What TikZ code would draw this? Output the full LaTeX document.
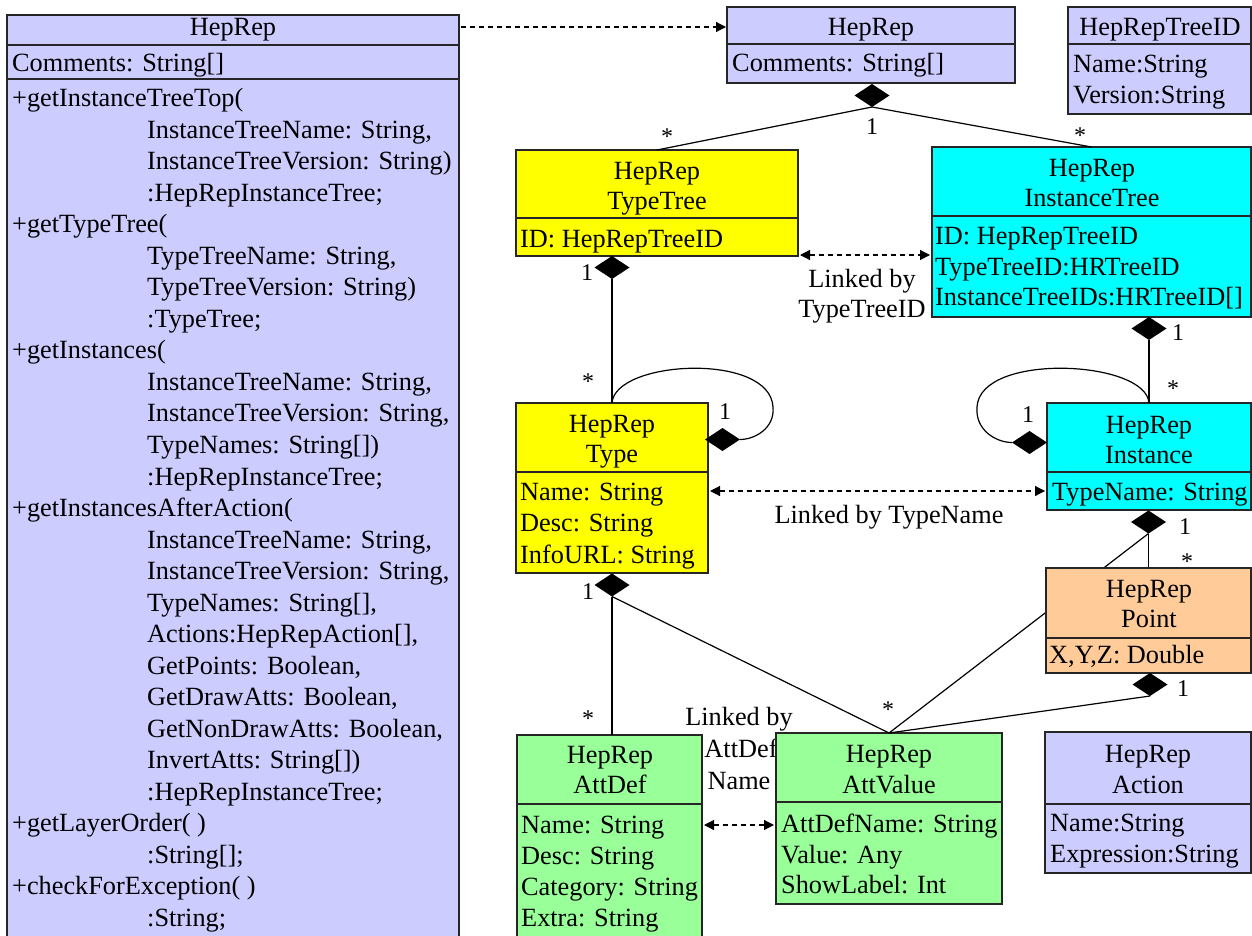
\documentclass[tikz,border=0pt]{standalone}
\usepackage{fontspec}
\setmainfont{Liberation Serif}
\usetikzlibrary{arrows.meta,shapes.geometric}
\definecolor{lav}{HTML}{CCCCFF}
\definecolor{yel}{HTML}{FFFF00}
\definecolor{cya}{HTML}{00FFFF}
\definecolor{ora}{HTML}{FFCC99}
\definecolor{grn}{HTML}{99FF99}
\tikzset{
  umlbox/.style={draw=black!85, line width=1.3pt, inner sep=0pt, outer sep=0pt, anchor=north west},
  sepline/.style={draw=black!85, line width=1.3pt},
  txt/.style={inner sep=0pt, font=\fontsize{26.3}{30}\selectfont},
  mult/.style={inner sep=0pt, font=\fontsize{24}{28}\selectfont},
  conn/.style={line width=1.2pt},
  dia/.style={diamond, fill=black, inner sep=0pt, outer sep=0pt, minimum width=35pt, minimum height=23pt},
  linkboth/.style={line width=1.2pt, dash pattern=on 5pt off 4pt, shorten <=2pt, shorten >=2pt,
     {Triangle[length=10pt,width=10pt]}-{Triangle[length=10pt,width=10pt]}},
  linkto/.style={line width=1.2pt, dash pattern=on 5pt off 4pt, shorten <=2pt, shorten >=1pt,
     -{Triangle[length=10pt,width=10pt]}},
}
\newcommand\ctx[4]{\node[txt, anchor=base] (#1) at (#2,#3) {#4};}
\newcommand\ltx[4]{\node[txt, anchor=base west] (#1) at (#2,#3) {#4};}
\begin{document}
\begin{tikzpicture}[x=1pt,y=-1pt]
\useasboundingbox (0,0) rectangle (1252,936);
\fill[white] (0,0) rectangle (1252,936);
\clip (0,0) rectangle (1252,936);

% label partly hidden by AttValue box
\ctx{lk4a}{739}{725}{Linked by}
\ctx{lk4b}{741}{757}{AttDef}
\ctx{lk4c}{739}{789}{Name}

% ---------- boxes ----------
\node[umlbox, fill=lav, minimum width=452pt, minimum height=960pt] (hr) at (7,15) {};
\draw[sepline] (7,45) -- (459,45);
\draw[sepline] (7,79) -- (459,79);

\node[umlbox, fill=lav, minimum width=288pt, minimum height=76pt] (hrb) at (727,7) {};
\draw[sepline] (727,44) -- (1015,44);

\node[umlbox, fill=lav, minimum width=183pt, minimum height=107pt] (tid) at (1068,7) {};
\draw[sepline] (1068,44) -- (1251,44);

\node[umlbox, fill=yel, minimum width=282pt, minimum height=106pt] (tt) at (516,150) {};
\draw[sepline] (516,218) -- (798,218);

\node[umlbox, fill=cya, minimum width=319pt, minimum height=170pt] (it) at (932,147) {};
\draw[sepline] (932,216) -- (1251,216);

\node[umlbox, fill=yel, minimum width=192pt, minimum height=170pt] (ty) at (516,403) {};
\draw[sepline] (516,472) -- (708,472);

\node[umlbox, fill=cya, minimum width=204pt, minimum height=107pt] (in) at (1047,403) {};
\draw[sepline] (1047,472) -- (1251,472);

\node[umlbox, fill=grn, minimum width=185pt, minimum height=240pt] (ad) at (517,735) {};
\draw[sepline] (517,804) -- (702,804);

\node[umlbox, fill=grn, minimum width=226pt, minimum height=171pt] (av) at (776,733) {};
\draw[sepline] (776,802) -- (1002,802);

\node[umlbox, fill=lav, minimum width=206pt, minimum height=141pt] (ac) at (1045,732) {};
\draw[sepline] (1045,804) -- (1251,804);

% ---------- diamonds ----------
\node[dia] (d0) at (872,95.5) {};
\node[dia] (d1) at (612,267.5) {};
\node[dia] (d2) at (1149,328.5) {};
\node[dia] (d3) at (722.5,439.5) {};
\node[dia] (d4) at (1029.5,442.5) {};
\node[dia] (d5) at (1148.5,522) {};
\node[dia] (d6) at (612,585) {};

% ---------- connectors ----------
\draw[conn] (d0.south) -- (tt.north);
\draw[conn] (d0.south) -- (it.north);
\draw[conn] (d1.south) -- (d1.south |- ty.north);
\draw[conn] (d2.south) -- (d2.south |- in.north);
\draw[conn] (ty.north) .. controls (615,360) and (770,352) .. (773,407)
                       .. controls (775,428) and (755,439.5) .. (d3.east);
\draw[conn] (in.north) .. controls (1146,360) and (980,352) .. (977,407)
                       .. controls (975,430) and (996,442.5) .. (d4.west);
\draw[conn] (d5.south) -- (d5.south |- 0,568);
\draw[conn] (d5.south) -- (av.north);
\draw[conn] (d6.south) -- (d6.south |- ad.north);
\draw[conn] (d6.south) -- (av.north);

% Point box drawn over the crossing line
\node[umlbox, fill=ora, minimum width=205pt, minimum height=105pt] (pt) at (1046,568) {};
\draw[sepline] (1046,638) -- (1251,638);
\node[dia] (d7) at (1150,684.5) {};
\draw[conn] (d7.south) -- (av.north);

% ---------- link arrows ----------
\coordinate (lk1) at (0,27);
\coordinate (lk2) at (0,255);
\coordinate (lk3) at (0,491);
\coordinate (lk4) at (0,825);
\draw[linkto] (hr.east |- lk1) -- (hrb.west |- lk1);
\draw[linkboth] (tt.east |- lk2) -- (it.west |- lk2);
\draw[linkboth] (ty.east |- lk3) -- (in.west |- lk3);
\draw[linkboth] (ad.east |- lk4) -- (av.west |- lk4);
\ctx{lk2a}{862}{287}{Linked by}
\ctx{lk2b}{862}{317}{TypeTreeID}
\ctx{lk3a}{889}{523}{Linked by TypeName}

% ---------- multiplicities ----------
\node[mult] (n1) at (667,137) {*};
\node[mult] (n2) at (872,127) {1};
\node[mult] (n3) at (1080,136) {*};
\node[mult] (n4) at (587,273) {1};
\node[mult] (n5) at (588,382) {*};
\node[mult] (n6) at (725,412) {1};
\node[mult] (n7) at (1178,333) {1};
\node[mult] (n8) at (1173,389) {*};
\node[mult] (n9) at (1028,415) {1};
\node[mult] (n10) at (1185,527) {1};
\node[mult] (n11) at (1187,562) {*};
\node[mult] (n12) at (588,592) {1};
\node[mult] (n13) at (588,719) {*};
\node[mult] (n14) at (888,710) {*};
\node[mult] (n15) at (1183,689) {1};

% ---------- texts ----------
\ctx{hrT}{233}{36}{HepRep}
\ltx{hrC}{12}{72}{Comments: String[]}
\ltx{m1}{12}{106.6}{+getInstanceTreeTop(}
\ltx{m2}{147}{138.1}{InstanceTreeName: String,}
\ltx{m3}{147}{169.7}{InstanceTreeVersion: String)}
\ltx{m4}{147}{201.2}{:HepRepInstanceTree;}
\ltx{m5}{12}{232.7}{+getTypeTree(}
\ltx{m6}{147}{264.3}{TypeTreeName: String,}
\ltx{m7}{147}{295.8}{TypeTreeVersion: String)}
\ltx{m8}{147}{327.3}{:TypeTree;}
\ltx{m9}{12}{358.8}{+getInstances(}
\ltx{m10}{147}{390.4}{InstanceTreeName: String,}
\ltx{m11}{147}{421.9}{InstanceTreeVersion: String,}
\ltx{m12}{147}{453.4}{TypeNames: String[])}
\ltx{m13}{147}{485.0}{:HepRepInstanceTree;}
\ltx{m14}{12}{516.5}{+getInstancesAfterAction(}
\ltx{m15}{147}{548.0}{InstanceTreeName: String,}
\ltx{m16}{147}{579.6}{InstanceTreeVersion: String,}
\ltx{m17}{147}{611.1}{TypeNames: String[],}
\ltx{m18}{147}{642.6}{Actions:HepRepAction[],}
\ltx{m19}{147}{674.1}{GetPoints: Boolean,}
\ltx{m20}{147}{705.7}{GetDrawAtts: Boolean,}
\ltx{m21}{147}{737.2}{GetNonDrawAtts: Boolean,}
\ltx{m22}{147}{768.7}{InvertAtts: String[])}
\ltx{m23}{147}{800.2}{:HepRepInstanceTree;}
\ltx{m24}{12}{831.8}{+getLayerOrder( )}
\ltx{m25}{147}{863.3}{:String[];}
\ltx{m26}{12}{894.8}{+checkForException( )}
\ltx{m27}{147}{926.4}{:String;}

\ctx{hrbT}{871}{36}{HepRep}
\ltx{hrbC}{732}{72}{Comments: String[]}

\ctx{tidT}{1160}{36}{HepRepTreeID}
\ltx{tidA}{1073}{73}{Name:String}
\ltx{tidB}{1073}{104}{Version:String}

\ctx{ttT1}{657}{179}{HepRep}
\ctx{ttT2}{657}{209}{TypeTree}
\ltx{ttA}{520}{247}{ID: HepRepTreeID}

\ctx{itT1}{1092}{177}{HepRep}
\ctx{itT2}{1092}{207}{InstanceTree}
\ltx{itA}{935}{244}{ID: HepRepTreeID}
\ltx{itB}{935}{275}{TypeTreeID:HRTreeID}
\ltx{itC}{935}{305}{InstanceTreeIDs:HRTreeID[]}

\ctx{tyT1}{612}{432}{HepRep}
\ctx{tyT2}{612}{462}{Type}
\ltx{tyA}{520}{500}{Name: String}
\ltx{tyB}{520}{531}{Desc: String}
\ltx{tyC}{520}{563}{InfoURL: String}

\ctx{inT1}{1149}{433}{HepRep}
\ctx{inT2}{1149}{463}{Instance}
\ltx{inA}{1052}{500}{TypeName: String}

\ctx{ptT1}{1149}{597}{HepRep}
\ctx{ptT2}{1149}{627}{Point}
\ltx{ptA}{1049}{663}{X,Y,Z: Double}

\ctx{adT1}{610}{763}{HepRep}
\ctx{adT2}{610}{793}{AttDef}
\ltx{adA}{521}{833}{Name: String}
\ltx{adB}{521}{864}{Desc: String}
\ltx{adC}{521}{895}{Category: String}
\ltx{adD}{521}{926}{Extra: String}

\ctx{avT1}{889}{762}{HepRep}
\ctx{avT2}{889}{793}{AttValue}
\ltx{avA}{781}{832}{AttDefName: String}
\ltx{avB}{781}{863}{Value: Any}
\ltx{avC}{781}{893}{ShowLabel: Int}

\ctx{acT1}{1148}{762}{HepRep}
\ctx{acT2}{1148}{793}{Action}
\ltx{acA}{1050}{831}{Name:String}
\ltx{acB}{1050}{862}{Expression:String}
\end{tikzpicture}
\end{document}
